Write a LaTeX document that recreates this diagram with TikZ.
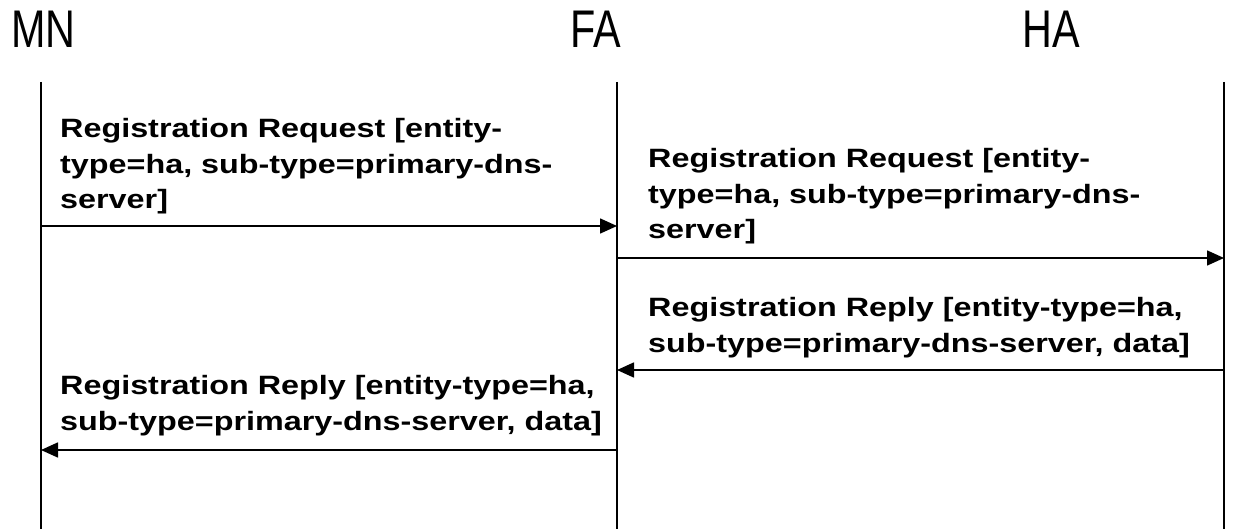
\documentclass[tikz,border=0pt]{standalone}
\usepackage{fontspec}
\usetikzlibrary{arrows.meta}
\newfontfamily\hdrfont{Liberation Sans}[FakeStretch=0.78]
\newfontfamily\lblfont{Liberation Sans}[FakeStretch=1.22]
\begin{document}
\begin{tikzpicture}[x=1pt,y=-1pt,
  hdr/.style={anchor=base west,inner sep=0pt,font=\hdrfont\fontsize{53}{60}\selectfont},
  lbl/.style={anchor=base west,inner sep=0pt,align=left,font=\lblfont\bfseries\fontsize{26.5}{35.5}\selectfont},
  life/.style={line width=1.6pt},
  msg/.style={line width=1.6pt,-{Triangle[length=17pt,width=15pt]}}]
\useasboundingbox (0,0) rectangle (1244,529);
% headers
\node[hdr] (mnh) at (11,48) {MN};
\node[hdr] (fah) at (570,48) {FA};
\node[hdr] (hah) at (1022,48) {HA};
% lifelines
\coordinate (mnt) at (41,82);  \coordinate (mnb) at (41,529);
\coordinate (fat) at (617,82); \coordinate (fab) at (617,529);
\coordinate (hat) at (1224,82); \coordinate (hab) at (1224,529);
\draw[life] (mnt) -- (mnb);
\draw[life] (fat) -- (fab);
\draw[life] (hat) -- (hab);
% message end points
\coordinate (m1a) at (41,226);   \coordinate (m1b) at (617,226);
\coordinate (m2a) at (617,258);  \coordinate (m2b) at (1224,258);
\coordinate (m3a) at (1224,370); \coordinate (m3b) at (617,370);
\coordinate (m4a) at (617,450);  \coordinate (m4b) at (41,450);
\draw[msg] (m1a) -- (m1b);
\draw[msg] (m2a) -- (m2b);
\draw[msg] (m3a) -- (m3b);
\draw[msg] (m4a) -- (m4b);
% labels (base anchor = last line's baseline)
\node[lbl] (l1) at (60,209) {Registration Request [entity-\\type=ha, sub-type=primary-dns-\\server]};
\node[lbl] (l2) at (648,239) {Registration Request [entity-\\type=ha, sub-type=primary-dns-\\server]};
\node[lbl] (l3) at (648,352) {Registration Reply [entity-type=ha,\\sub-type=primary-dns-server, data]};
\node[lbl] (l4) at (60,430) {Registration Reply [entity-type=ha,\\sub-type=primary-dns-server, data]};
\end{tikzpicture}
\end{document}
